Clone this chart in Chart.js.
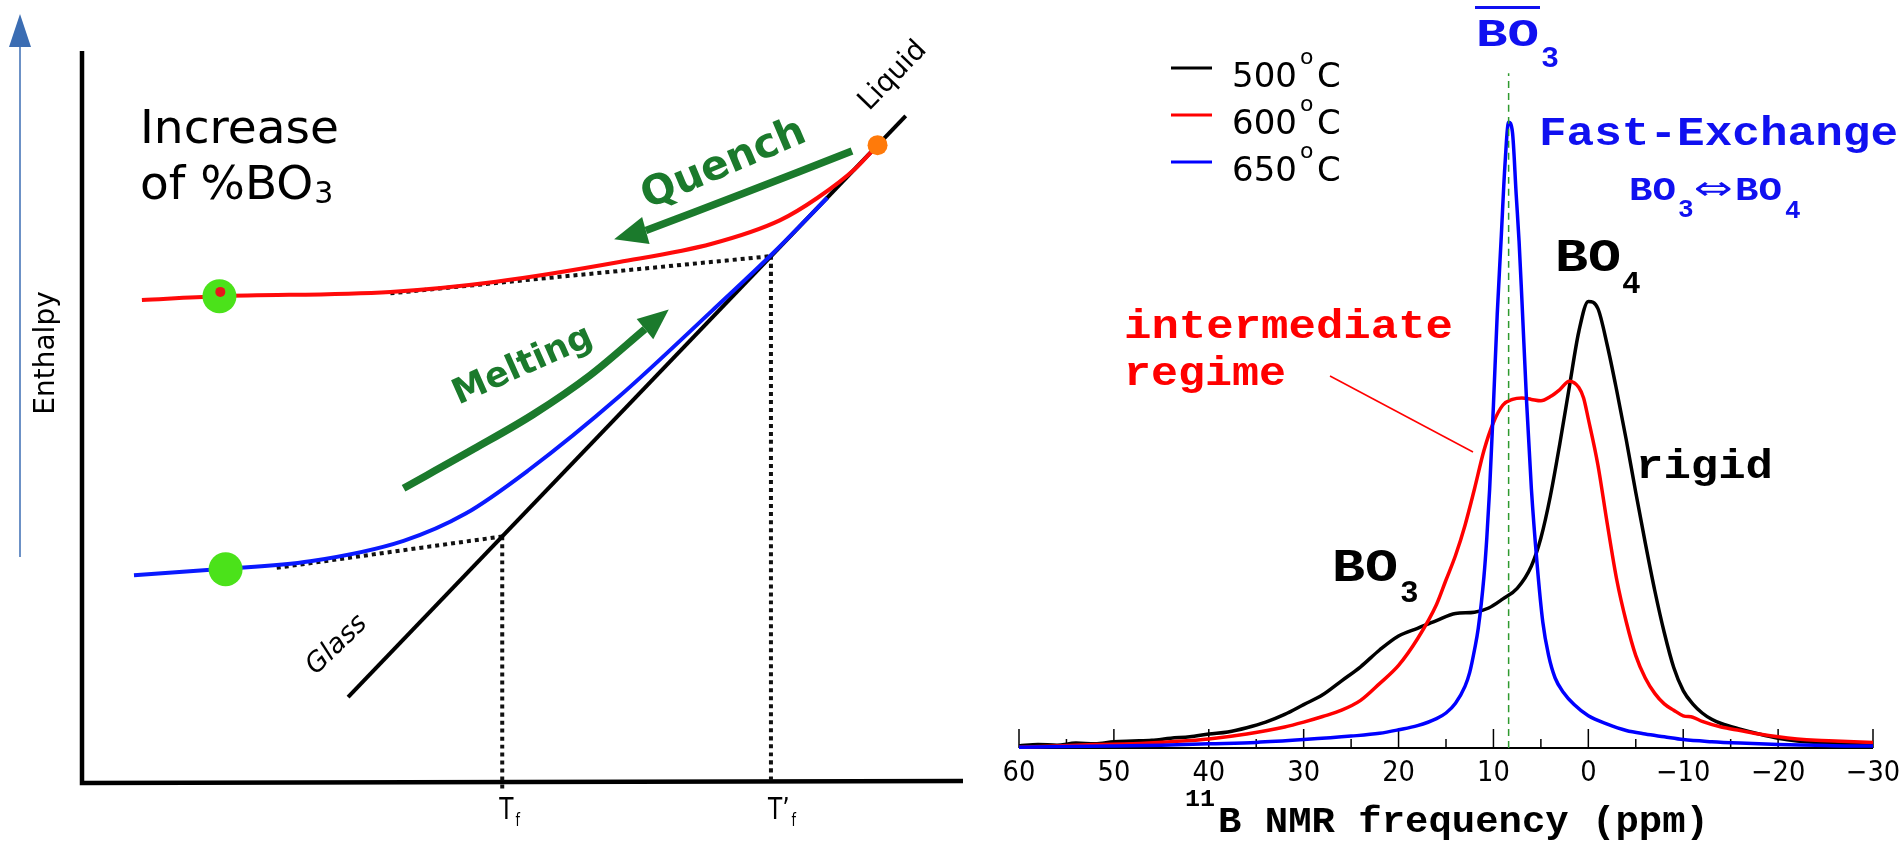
<!DOCTYPE html>
<html>
<head>
<meta charset="utf-8">
<script src="https://cdn.jsdelivr.net/npm/chart.js@4.4.0/dist/chart.umd.min.js"></script>
<style>
html, body { margin: 0; padding: 0; background: #fff; width: 1903px; height: 841px; overflow: hidden; }
canvas { position: absolute; top: 0; }
#esq { left: 0; }
#dir { left: 980px; }
</style>
</head>
<body>
<canvas id="esq" width="980" height="841"></canvas>
<canvas id="dir" width="923" height="841"></canvas>
<script>
// === Painel esquerdo: entalpia x temperatura (unidades arbitrárias 0-100) ===
const vidroX = [30.2, 93.5];
const vidroY = [11.5, 91.1];

const vermelhaX = [6.8, 15.4, 35.0, 47.0, 61.0, 71.5, 79.2, 83.5, 87.7, 90.3];
const vermelhaY = [65.9, 66.4, 67.0, 68.4, 71.1, 73.6, 76.8, 79.9, 83.8, 87.1];

const azulX = [5.9, 15.4, 25.9, 36.5, 43.5, 50.6, 61.0, 71.5, 78.6, 84.6];
const azulY = [28.2, 29.0, 30.1, 32.9, 36.6, 42.5, 52.7, 64.4, 72.5, 79.9];

const tangVermX = [35.0, 78.2];
const tangVermY = [66.8, 71.9];
const tangAzulX = [22.1, 47.7];
const tangAzulY = [29.2, 33.5];

const tempFicticia = [47.7, 78.2];   // Tf, T'f
const tempFicticiaY = [33.5, 71.9];
const rotulosTf = ["T", "T’"];

const quenchX = [64.0, 75.1, 87.4];
const quenchY = [75.4, 80.5, 86.3];
const quenchPonta = [60.4, 74.2];

const meltingX = [36.5, 44.5, 51.2, 57.7, 63.9];
const meltingY = [40.1, 45.5, 50.2, 55.6, 61.9];
const meltingPonta = [66.6, 64.6];

const pontosVerdesX = [15.6, 16.3];
const pontosVerdesY = [66.4, 29.0];
const pontoVermelho = [15.7, 67.0];
const pontoLaranja = [90.3, 87.1];

// === Painel direito: espectros RMN 11B ===
const ppm500 = [60,58,56,54,52,50,48,46,44,42,40,38,36,34,32,30,28,26,24,22,20,18,16,14,12,10.5,9,7.5,6,5,4,3,2,1,0,-1,-2,-3,-4,-5,-6,-7,-8,-9,-10,-11,-12,-13,-14,-16,-18,-20,-22,-24,-26,-28,-30];
const int500 = [0.3,0.5,0.4,0.7,0.6,0.9,1.0,1.1,1.4,1.6,2.0,2.3,2.9,3.7,4.8,6.2,7.6,9.6,11.6,14.0,16.0,17.1,18.2,19.2,19.4,20.0,21.3,22.8,26,30,36,43.5,51.6,59.5,63.8,62.8,57.5,51,44,36.5,29.3,22.5,16.5,11.5,8.2,6.3,5.0,4.1,3.5,2.7,2.0,1.4,1.0,0.8,0.6,0.5,0.4];

const ppm600 = [60,56,52,48,44,40,36,32,30,28,26,24,22,20,18,16,15,14,13,12,11,10,9,8,7,6,5,4,3,2,1,0.5,0,-1,-2,-3,-4,-5,-6,-7,-8,-9,-10,-11,-12,-14,-16,-18,-20,-22,-24,-26,-28,-30];
const int600 = [0.1,0.3,0.5,0.6,0.9,1.3,2.0,3.0,3.7,4.5,5.4,6.8,9.2,11.8,15.6,20.5,24,27.5,31.8,37,42.5,46.5,49,49.8,50,49.8,49.6,50.2,51.2,52.4,51.5,50,47,40.5,32,24,18,13.2,10,7.8,6.3,5.4,4.6,4.4,3.8,3.0,2.5,2.0,1.6,1.3,1.1,1.0,0.9,0.8];

const ppm650 = [60,55,50,45,40,35,30,25,22,20,18,16,15,14,13,12.5,12,11.6,11,10.7,10.4,10,9.6,9.2,8.8,8.4,8.0,7.6,7.3,7.0,6.5,6.0,5.4,4.8,4.2,3.5,2.6,1.5,0,-2,-4,-6,-8,-10,-13,-16,-20,-24,-27,-30];
const int650 = [0.1,0.2,0.3,0.4,0.6,0.8,1.2,1.7,2.1,2.6,3.2,4.2,5.0,6.4,8.8,10.8,14,17.1,24.5,30,37,49,62,72.4,83,89.4,88,79,72.4,64,49.3,37,26.3,18,13.3,10,7.9,6.2,4.6,3.4,2.5,2.0,1.6,1.2,0.9,0.7,0.5,0.4,0.3,0.3];

const linhaBO3 = 8.4;
const linhaBO3Topo = 96.4;

const temperaturas = ["500", "600", "650"];
const coresEspectro = ["#000000", "#ff0000", "#0000ff"];

const ticksMaiores = [60, 50, 40, 30, 20, 10, 0, -10, -20, -30];
const rotulosTicks = ["60", "50", "40", "30", "20", "10", "0", "−10", "−20", "−30"];
const ticksMenores = [55, 45, 35, 25, 15, 5, -5, -15, -25];

// === utilidades ===
const pares = (xs, ys) => xs.map((x, i) => ({ x, y: ys[i] }));
const VERDE = "#1b7a2c";
const MONO = '"Liberation Mono", "Courier New", monospace';
const SANS = '"DejaVu Sans", sans-serif';

function escreve(ctx, s, x, y, fonte, cor, o = {}) {
    ctx.save();
    ctx.font = fonte;
    ctx.fillStyle = cor;
    ctx.textAlign = o.align || "left";
    ctx.textBaseline = o.base || "alphabetic";
    ctx.translate(x, y);
    if (o.rot) ctx.rotate(o.rot * Math.PI / 180);
    if (o.w) ctx.scale(o.w / ctx.measureText(s).width, 1);
    else if (o.sx) ctx.scale(o.sx, 1);
    ctx.fillText(s, 0, 0);
    ctx.restore();
}

function ponta(ctx, de, para, meia, cor) {
    const a = Math.atan2(para.y - de.y, para.x - de.x);
    ctx.save();
    ctx.fillStyle = cor;
    ctx.beginPath();
    ctx.moveTo(para.x, para.y);
    ctx.lineTo(de.x + Math.sin(a) * meia, de.y - Math.cos(a) * meia);
    ctx.lineTo(de.x - Math.sin(a) * meia, de.y + Math.cos(a) * meia);
    ctx.closePath();
    ctx.fill();
    ctx.restore();
}

function linhaDS(dados, cor, largura, ordem, extra = {}) {
    return Object.assign({
        data: dados, borderColor: cor, backgroundColor: cor, borderWidth: largura,
        pointRadius: 0, fill: false, order: ordem, cubicInterpolationMode: "monotone", clip: false
    }, extra);
}

function pontoDS(dados, cor, raio, ordem) {
    return {
        data: dados, showLine: false, pointRadius: raio, pointHoverRadius: raio,
        pointBackgroundColor: cor, pointBorderWidth: 0, borderColor: cor, order: ordem, clip: false
    };
}

const opcoesBase = (padding, xmin, xmax, reverso) => ({
    responsive: false, animation: false, devicePixelRatio: 1,
    layout: { padding },
    plugins: { legend: { display: false }, tooltip: { enabled: false } },
    events: [],
    scales: {
        x: { type: "linear", min: xmin, max: xmax, reverse: reverso, display: false },
        y: { type: "linear", min: 0, max: 100, display: false }
    }
});

// === Gráfico esquerdo ===
const desenhoEsq = {
    id: "desenhoEsq",
    beforeDatasetsDraw(chart) {
        const { ctx, scales: { x, y } } = chart;
        ctx.save();
        ctx.strokeStyle = "#000";
        ctx.lineWidth = 4.5;
        ctx.beginPath();
        ctx.moveTo(x.getPixelForValue(0), y.getPixelForValue(100));
        ctx.lineTo(x.getPixelForValue(0), y.getPixelForValue(0) + 2);
        ctx.lineTo(x.getPixelForValue(100), y.getPixelForValue(0));
        ctx.stroke();
        // seta azul da entalpia
        ctx.strokeStyle = "#3b6db3";
        ctx.fillStyle = "#3b6db3";
        ctx.lineWidth = 1.5;
        ctx.beginPath(); ctx.moveTo(20, 557); ctx.lineTo(20, 44); ctx.stroke();
        ctx.beginPath(); ctx.moveTo(20, 14); ctx.lineTo(9, 47); ctx.lineTo(31, 47); ctx.closePath(); ctx.fill();
        ctx.restore();
    },
    afterDatasetsDraw(chart) {
        const { ctx, scales: { x, y } } = chart;
        const q = chart.getDatasetMeta(6).data[0];
        ponta(ctx, q, { x: x.getPixelForValue(quenchPonta[0]), y: y.getPixelForValue(quenchPonta[1]) }, 14, VERDE);
        const m = chart.getDatasetMeta(7).data;
        ponta(ctx, m[m.length - 1], { x: x.getPixelForValue(meltingPonta[0]), y: y.getPixelForValue(meltingPonta[1]) }, 13, VERDE);

        escreve(ctx, "Increase", 140, 143, "47px " + SANS, "#000");
        escreve(ctx, "of %BO", 140, 199, "47px " + SANS, "#000");
        ctx.font = "47px " + SANS;
        escreve(ctx, "3", 140 + ctx.measureText("of %BO").width + 1, 203, "30px " + SANS, "#000");
        escreve(ctx, "Enthalpy", 47, 353, "28px " + SANS, "#000", { align: "center", base: "middle", rot: -90 });
        escreve(ctx, "Liquid", 893, 76, "28px " + SANS, "#000", { align: "center", base: "middle", rot: -46 });
        escreve(ctx, "Glass", 337, 645, "italic 27px " + SANS, "#000", { align: "center", base: "middle", rot: -44 });
        escreve(ctx, "Quench", 724, 165, "bold 41px " + SANS, VERDE, { align: "center", base: "middle", rot: -23 });
        escreve(ctx, "Melting", 523, 366, "bold 35px " + SANS, VERDE, { align: "center", base: "middle", rot: -24 });

        tempFicticia.forEach((t, i) => {
            const px = x.getPixelForValue(t);
            const base = y.getPixelForValue(0) + 38;
            ctx.font = "31px " + SANS;
            const w = ctx.measureText(rotulosTf[i]).width * 0.75;
            escreve(ctx, rotulosTf[i], px - 3, base, "31px " + SANS, "#000", { sx: 0.75 });
            escreve(ctx, "f", px - 1 + w, base + 7, "17px " + SANS, "#000", { sx: 0.75 });
        });
    }
};

const tracoPontilhado = { borderDash: [4, 4], borderCapStyle: "butt" };

new Chart(document.getElementById("esq"), {
    type: "line",
    data: {
        datasets: [
            pontoDS([{ x: pontoVermelho[0], y: pontoVermelho[1] }], "#e8161c", 5, 0),
            pontoDS([{ x: pontoLaranja[0], y: pontoLaranja[1] }], "#ff7a0a", 10, 1),
            pontoDS(pares(pontosVerdesX, pontosVerdesY), "#4be21a", 17, 2),
            linhaDS(pares(azulX, azulY), "#0a1aff", 4, 3),
            linhaDS(pares(vermelhaX, vermelhaY), "#ff0a0a", 4, 4),
            linhaDS(pares(vidroX, vidroY), "#000", 4, 5),
            linhaDS(pares(quenchX, quenchY), VERDE, 7.5, 6, { cubicInterpolationMode: "default", tension: 0.4 }),
            linhaDS(pares(meltingX, meltingY), VERDE, 7.5, 7),
            linhaDS(pares(tangVermX, tangVermY), "#111", 4, 8, tracoPontilhado),
            linhaDS(pares(tangAzulX, tangAzulY), "#111", 4, 9, tracoPontilhado),
            linhaDS([{ x: tempFicticia[0], y: tempFicticiaY[0] }, { x: tempFicticia[0], y: -1.3 }], "#111", 4, 10, tracoPontilhado),
            linhaDS([{ x: tempFicticia[1], y: tempFicticiaY[1] }, { x: tempFicticia[1], y: 0 }], "#111", 4, 11, tracoPontilhado)
        ]
    },
    options: opcoesBase({ left: 82, right: 2, top: 51, bottom: 60 }, 0, 100, false),
    plugins: [desenhoEsq]
});

// === Gráfico direito ===
const desenhoDir = {
    id: "desenhoDir",
    beforeDatasetsDraw(chart) {
        const { ctx, scales: { x, y } } = chart;
        const y0 = y.getPixelForValue(0);
        ctx.save();
        ctx.strokeStyle = "#000";
        ctx.lineWidth = 2;
        ctx.beginPath();
        ctx.moveTo(x.getPixelForValue(60), y0);
        ctx.lineTo(x.getPixelForValue(-30), y0);
        ctx.stroke();
        ctx.lineWidth = 1.5;
        ticksMaiores.forEach(v => {
            const px = x.getPixelForValue(v);
            ctx.beginPath(); ctx.moveTo(px, y0); ctx.lineTo(px, y0 - 19); ctx.stroke();
        });
        ticksMenores.forEach(v => {
            const px = x.getPixelForValue(v);
            ctx.beginPath(); ctx.moveTo(px, y0); ctx.lineTo(px, y0 - 9); ctx.stroke();
        });
        ctx.restore();
        ticksMaiores.forEach((v, i) => {
            escreve(ctx, rotulosTicks[i], x.getPixelForValue(v), y0 + 33, "28px " + SANS, "#000", { align: "center", sx: 0.92 });
        });
    },
    afterDatasetsDraw(chart) {
        const { ctx } = chart;
        const dx = -980;
        const AZUL = "#1010f0";
        // legenda
        temperaturas.forEach((t, i) => {
            const ly = 68 + i * 47;
            ctx.save();
            ctx.strokeStyle = coresEspectro[i];
            ctx.lineWidth = 3;
            ctx.beginPath(); ctx.moveTo(1171 + dx, ly); ctx.lineTo(1212 + dx, ly); ctx.stroke();
            ctx.restore();
            escreve(ctx, t, 1232 + dx, ly + 19, "34px " + SANS, "#000");
            escreve(ctx, "o", 1300 + dx, ly - 4, "22px " + SANS, "#000");
            escreve(ctx, "C", 1317 + dx, ly + 19, "34px " + SANS, "#000");
        });
        // BO3 com barra
        escreve(ctx, "BO", 1476 + dx, 46, "bold 38px " + MONO, AZUL, { w: 63 });
        ctx.fillStyle = AZUL;
        ctx.fillRect(1475 + dx, 6, 65, 3);
        escreve(ctx, "3", 1541 + dx, 67, "bold 30px " + MONO, AZUL);
        escreve(ctx, "Fast-Exchange", 1539 + dx, 145, "bold 40px " + MONO, AZUL, { w: 359 });
        escreve(ctx, "BO", 1629 + dx, 200, "bold 33px " + MONO, AZUL, { w: 47 });
        escreve(ctx, "3", 1678 + dx, 217, "bold 26px " + MONO, AZUL);
        escreve(ctx, "⇔", 1694 + dx, 199, "32px " + SANS, AZUL, { w: 39 });
        escreve(ctx, "BO", 1735 + dx, 200, "bold 33px " + MONO, AZUL, { w: 47 });
        escreve(ctx, "4", 1785 + dx, 218, "bold 26px " + MONO, AZUL);
        // rótulos pretos
        escreve(ctx, "BO", 1555 + dx, 271, "bold 46px " + MONO, "#000", { w: 66 });
        escreve(ctx, "4", 1622 + dx, 293, "bold 31px " + MONO, "#000");
        escreve(ctx, "BO", 1332 + dx, 581, "bold 46px " + MONO, "#000", { w: 66 });
        escreve(ctx, "3", 1400 + dx, 602, "bold 31px " + MONO, "#000");
        escreve(ctx, "rigid", 1636 + dx, 478, "bold 40px " + MONO, "#000", { w: 137 });
        // regime intermediário
        escreve(ctx, "intermediate", 1124 + dx, 338, "bold 40px " + MONO, "#ff0000", { w: 329 });
        escreve(ctx, "regime", 1124 + dx, 385, "bold 40px " + MONO, "#ff0000", { w: 162 });
        ctx.save();
        ctx.strokeStyle = "#ff0000";
        ctx.lineWidth = 1.5;
        ctx.beginPath(); ctx.moveTo(1330 + dx, 376); ctx.lineTo(1473 + dx, 452); ctx.stroke();
        ctx.restore();
        // título do eixo
        escreve(ctx, "11", 1185 + dx, 806, "bold 24px " + MONO, "#000", { w: 30 });
        escreve(ctx, "B NMR frequency (ppm)", 1218 + dx, 832, "bold 37px " + MONO, "#000", { w: 491 });
    }
};

new Chart(document.getElementById("dir"), {
    type: "line",
    data: {
        datasets: [
            linhaDS([{ x: linhaBO3, y: 0 }, { x: linhaBO3, y: linhaBO3Topo }], "#2e9a2e", 1.5, 0, { borderDash: [7, 5] }),
            linhaDS(pares(ppm650, int650), coresEspectro[2], 3.5, 1),
            linhaDS(pares(ppm600, int600), coresEspectro[1], 3.5, 2),
            linhaDS(pares(ppm500, int500), coresEspectro[0], 3.5, 3)
        ]
    },
    options: opcoesBase({ left: 39, right: 30, top: 48, bottom: 93 }, -30, 60, true),
    plugins: [desenhoDir]
});
</script>
</body>
</html>
